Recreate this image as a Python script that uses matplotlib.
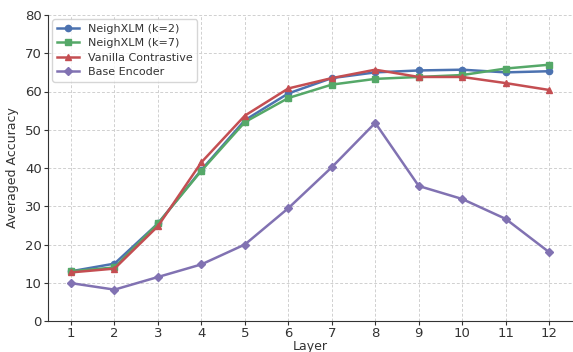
import numpy as np
import matplotlib.pyplot as plt

layers = np.arange(1, 13)
neigh_k2 = [13.0, 15.0, 25.5, 39.5, 52.5, 59.5, 63.5, 65.0, 65.5, 65.7, 65.0, 65.3]
neigh_k7 = [13.0, 14.0, 25.5, 39.3, 52.0, 58.3, 61.8, 63.3, 63.8, 64.3, 66.0, 67.0]
vanilla = [12.7, 13.7, 24.8, 41.5, 53.7, 60.8, 63.5, 65.7, 63.8, 63.8, 62.2, 60.4]
base_enc = [9.9, 8.2, 11.5, 14.8, 20.0, 29.5, 40.2, 51.8, 35.3, 31.9, 26.7, 18.0]

plt.rcParams['text.color'] = '#333333'
plt.rcParams['axes.labelcolor'] = '#333333'
plt.rcParams['xtick.color'] = '#333333'
plt.rcParams['ytick.color'] = '#333333'

fig, ax = plt.subplots(figsize=(5.73, 3.52), dpi=100)
fig.subplots_adjust(left=48/573, right=1.0, top=1-15/352, bottom=1-321/352)
ax.plot(layers, neigh_k2, color='#4C72B0', marker='o', ms=4.5, lw=1.8, label='NeighXLM (k=2)')
ax.plot(layers, neigh_k7, color='#55A868', marker='s', ms=5, lw=1.8, label='NeighXLM (k=7)')
ax.plot(layers, vanilla, color='#C44E52', marker='^', ms=4.5, lw=1.8, label='Vanilla Contrastive')
ax.plot(layers, base_enc, color='#8172B2', marker='D', ms=4.5, lw=1.8, label='Base Encoder')

ax.set_xlabel('Layer', fontsize=9, labelpad=0)
ax.set_ylabel('Averaged Accuracy', fontsize=9, labelpad=4)
ax.set_xticks(layers)
ax.set_ylim(0, 80)
ax.set_xlim(0.47, 12.55)
ax.tick_params(labelsize=9.5, length=3, pad=1.5)
ax.grid(True, linestyle=(0, (3, 2)), color='#d0d0d0', lw=0.7)
ax.spines['top'].set_visible(False)
ax.spines['right'].set_visible(False)
ax.spines['left'].set_color('#333333')
ax.spines['bottom'].set_color('#333333')
ax.legend(loc='upper left', fontsize=8, labelspacing=0.4, borderaxespad=0.4)
plt.savefig('out.png')
